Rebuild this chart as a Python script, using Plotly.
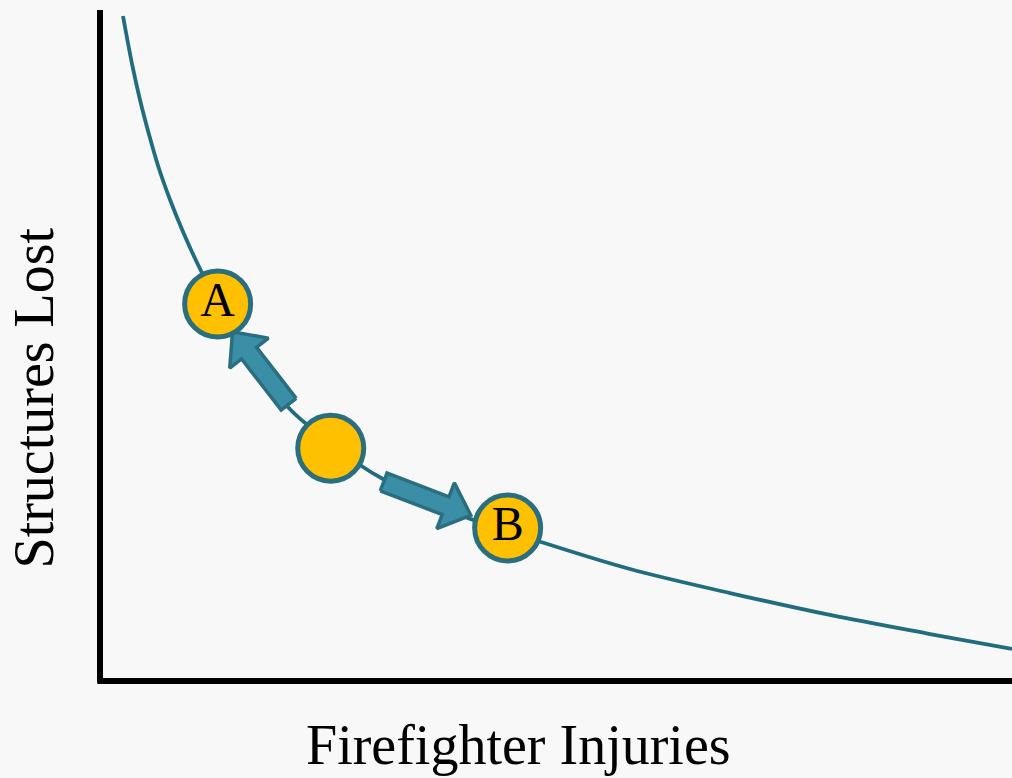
import plotly.graph_objects as go
import math

# ---- data (arbitrary units) ----
injuries = [0.252, 0.358, 0.439, 0.533, 0.641, 0.769, 0.916, 1.087, 1.491, 2.061, 2.303, 2.851,
            3.103, 3.947, 4.803, 5.811, 6.908, 8.004, 9.101, 10.0]
structures = [9.911, 9.151, 8.659, 8.167, 7.660, 7.168, 6.677, 6.170, 5.127, 4.083, 3.785, 3.219,
              3.010, 2.474, 2.086, 1.669, 1.311, 0.984, 0.700, 0.477]

point_labels = ["A", "", "B"]
point_x = [1.29, 2.53, 4.47]
point_y = [5.62, 3.47, 2.28]

x_title = "Firefighter Injuries"
y_title = "Structures Lost"

# ---- style ----
W, H = 1012, 778
X0_PX, X_SCALE = 100, 91.2      # pixel of x=0, px per unit
Y0_PX, Y_SCALE = 681, 67.1      # pixel of y=0, px per unit
x_range = [(0 - X0_PX) / X_SCALE, (W - X0_PX) / X_SCALE]
y_range = [(Y0_PX - H) / Y_SCALE, Y0_PX / Y_SCALE]

BG = "#f8f8f8"
CURVE = "#216c7e"
EDGE = "#2a6e80"
ARROW_FILL = "#3a8fa6"
GOLD = "#FFC000"
FONT = "Liberation Serif"


def to_px(x, y):
    return X0_PX + x * X_SCALE, Y0_PX - y * Y_SCALE


def to_data(px, py):
    return (px - X0_PX) / X_SCALE, (Y0_PX - py) / Y_SCALE


def arrow_polygon(i_from, i_to, t0, t1, off0, off1, shaft=19, head=49, head_len=27):
    ax, ay = to_px(point_x[i_from], point_y[i_from])
    bx, by = to_px(point_x[i_to], point_y[i_to])
    dx, dy = bx - ax, by - ay
    L = math.hypot(dx, dy)
    ux, uy = dx / L, dy / L
    nx, ny = -uy, ux
    tx, ty = ax + dx * t0 + nx * off0, ay + dy * t0 + ny * off0
    hx, hy = ax + dx * t1 + nx * off1, ay + dy * t1 + ny * off1
    vx, vy = hx - tx, hy - ty
    l2 = math.hypot(vx, vy)
    ux, uy = vx / l2, vy / l2
    nx, ny = -uy, ux
    kx, ky = hx - ux * head_len, hy - uy * head_len
    pts = [
        (tx + nx * shaft / 2, ty + ny * shaft / 2),
        (kx + nx * shaft / 2, ky + ny * shaft / 2),
        (kx + nx * head / 2, ky + ny * head / 2),
        (hx, hy),
        (kx - nx * head / 2, ky - ny * head / 2),
        (kx - nx * shaft / 2, ky - ny * shaft / 2),
        (tx - nx * shaft / 2, ty - ny * shaft / 2),
        (tx + nx * shaft / 2, ty + ny * shaft / 2),
    ]
    d = [to_data(px, py) for px, py in pts]
    return [p[0] for p in d], [p[1] for p in d]


fig = go.Figure()

fig.add_trace(go.Scatter(
    x=injuries, y=structures, mode="lines",
    line=dict(color=CURVE, width=3.8, shape="spline", smoothing=1.0),
    hoverinfo="skip", showlegend=False))

for args in [(1, 0, 0.33, 0.83, -6, -5.5), (1, 2, 0.32, 0.80, 9, 3.6)]:
    ax_, ay_ = arrow_polygon(*args)
    fig.add_trace(go.Scatter(
        x=ax_, y=ay_, mode="lines", fill="toself", fillcolor=ARROW_FILL,
        line=dict(color=EDGE, width=3.5), hoverinfo="skip", showlegend=False))

fig.add_trace(go.Scatter(
    x=point_x, y=point_y, mode="markers+text", text=point_labels,
    textposition="middle center",
    textfont=dict(family=FONT, size=48, color="black"),
    marker=dict(size=66, color=GOLD, line=dict(color=EDGE, width=5)),
    hoverinfo="skip", showlegend=False))

# axes lines
fig.add_shape(type="line", xref="x", yref="y", x0=0, x1=0, y0=-0.01, y1=10.0,
              line=dict(color="black", width=6))
fig.add_shape(type="line", xref="x", yref="y", x0=-0.03, x1=x_range[1], y0=0, y1=0,
              line=dict(color="black", width=6))

fig.add_annotation(text=x_title, xref="paper", yref="paper",
                   x=518 / W, y=1 - 745 / H, xanchor="center", yanchor="middle",
                   showarrow=False, font=dict(family=FONT, size=56, color="black"))
fig.add_annotation(text=y_title, xref="paper", yref="paper",
                   x=33.5 / W, y=1 - 398 / H, xanchor="center", yanchor="middle",
                   textangle=-90, showarrow=False,
                   font=dict(family=FONT, size=56, color="black"))

fig.update_layout(
    width=W, height=H, autosize=False,
    margin=dict(l=0, r=0, t=0, b=0, pad=0),
    paper_bgcolor=BG, plot_bgcolor=BG,
    xaxis=dict(range=x_range, visible=False, fixedrange=True),
    yaxis=dict(range=y_range, visible=False, fixedrange=True),
    showlegend=False,
)

fig.write_html(
    "out.html",
    config={"displayModeBar": False},
    post_script="document.body.style.margin='0';document.body.style.overflow='hidden';",
)
